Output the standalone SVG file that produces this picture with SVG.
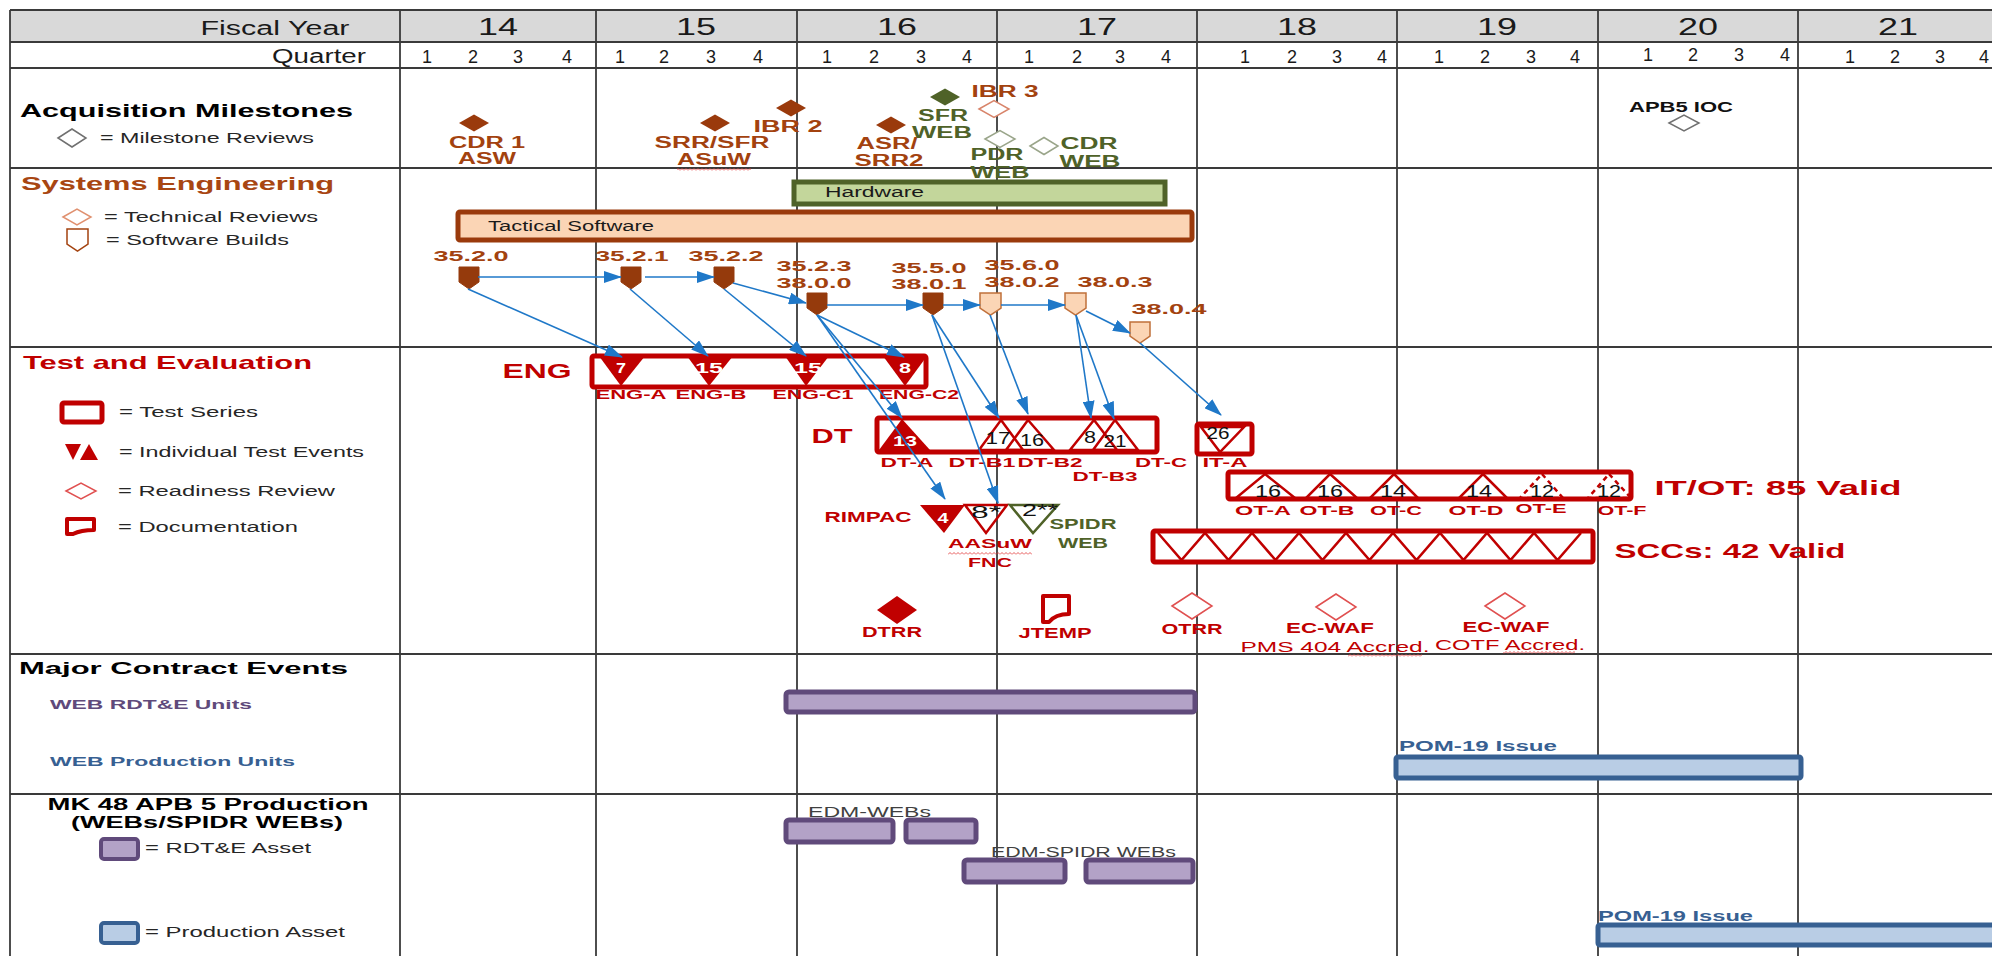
<svg xmlns="http://www.w3.org/2000/svg" width="1992" height="956" viewBox="0 0 1992 956">
<defs>
<style>
text{font-family:"Liberation Sans",Arial,Helvetica,sans-serif}
.hd{font-size:20px;fill:#1a1a1a}
.yr{font-size:23px;fill:#1a1a1a;text-anchor:middle}
.q{font-size:18px;fill:#1a1a1a;text-anchor:middle}
.sec{font-size:19px;font-weight:bold}
.lg{font-size:14px;fill:#262626}
.ms{font-size:16px;font-weight:bold;fill:#a3420f;text-anchor:middle}
.msg{font-size:16px;font-weight:bold;fill:#4f6228;text-anchor:middle}
.bl{font-size:15px;font-weight:bold;fill:#a3420f;text-anchor:middle}
.rl{font-size:13px;font-weight:bold;fill:#c00000;text-anchor:middle}
.rn{font-size:15px;fill:#c00000;text-anchor:middle}
.rb{font-weight:bold;fill:#c00000;text-anchor:middle}
.num{font-size:16px;fill:#111;text-anchor:middle}
.wn{font-size:14px;font-weight:bold;fill:#fff;text-anchor:middle}
.grid{stroke:#3a3a3a;stroke-width:1.8}
.arr{stroke:#1f78c8;stroke-width:1.6;fill:none;marker-end:url(#ah)}
.box{fill:#fff;stroke:#c00000;stroke-width:5}
.tri{fill:none;stroke:#c00000;stroke-width:2.5}
.trid{fill:none;stroke:#c00000;stroke-width:2.5;stroke-dasharray:5 4}
.bd{fill:#953a0c;stroke:#953a0c;stroke-width:1}
.bp{fill:#fbd5b5;stroke:#c0703a;stroke-width:1.5}
.pur{fill:#b3a2c7;stroke:#604a7b;stroke-width:5}
.blu{fill:#b9cde5;stroke:#376092;stroke-width:5}
.wave{fill:url(#wv)}
</style>
<marker id="ah" markerWidth="18" markerHeight="12" refX="17" refY="6" orient="auto" markerUnits="userSpaceOnUse"><path d="M0,0 L18,6 L0,12 z" fill="#1f78c8"/></marker>
<pattern id="wv" width="4" height="3" patternUnits="userSpaceOnUse"><path d="M0,2.5 L2,0.5 L4,2.5" fill="none" stroke="#e03030" stroke-width="0.8"/></pattern>
</defs>
<rect x="0" y="0" width="1992" height="956" fill="#fff"/>

<g id="grid">
<rect x="10" y="10" width="1990" height="32" fill="#d9d9d9"/>
<line class="grid" x1="10" y1="10" x2="1992" y2="10"/>
<line class="grid" x1="10" y1="42" x2="1992" y2="42"/>
<line class="grid" x1="10" y1="68" x2="1992" y2="68"/>
<line class="grid" x1="10" y1="168" x2="1992" y2="168"/>
<line class="grid" x1="10" y1="347" x2="1992" y2="347"/>
<line class="grid" x1="10" y1="654" x2="1992" y2="654"/>
<line class="grid" x1="10" y1="794" x2="1992" y2="794"/>
<line class="grid" x1="10" y1="10" x2="10" y2="956"/>
<line class="grid" x1="400" y1="10" x2="400" y2="956"/>
<line class="grid" x1="596" y1="10" x2="596" y2="956"/>
<line class="grid" x1="797" y1="10" x2="797" y2="956"/>
<line class="grid" x1="997" y1="10" x2="997" y2="956"/>
<line class="grid" x1="1197" y1="10" x2="1197" y2="956"/>
<line class="grid" x1="1397" y1="10" x2="1397" y2="956"/>
<line class="grid" x1="1598" y1="10" x2="1598" y2="956"/>
<line class="grid" x1="1798" y1="10" x2="1798" y2="956"/>
</g>

<g id="header">
<text class="hd" x="275" y="35" text-anchor="middle" textLength="149" lengthAdjust="spacingAndGlyphs">Fiscal Year</text>
<text class="yr" x="498" y="35" textLength="40" lengthAdjust="spacingAndGlyphs">14</text>
<text class="yr" x="696" y="35" textLength="40" lengthAdjust="spacingAndGlyphs">15</text>
<text class="yr" x="897" y="35" textLength="40" lengthAdjust="spacingAndGlyphs">16</text>
<text class="yr" x="1097" y="35" textLength="40" lengthAdjust="spacingAndGlyphs">17</text>
<text class="yr" x="1297" y="35" textLength="40" lengthAdjust="spacingAndGlyphs">18</text>
<text class="yr" x="1497" y="35" textLength="40" lengthAdjust="spacingAndGlyphs">19</text>
<text class="yr" x="1698" y="35" textLength="40" lengthAdjust="spacingAndGlyphs">20</text>
<text class="yr" x="1898" y="35" textLength="40" lengthAdjust="spacingAndGlyphs">21</text>
<text class="hd" x="366" y="63" font-size="18" text-anchor="end" textLength="94" lengthAdjust="spacingAndGlyphs">Quarter</text>
<g class="q">
<text x="427" y="63">1</text><text x="473" y="63">2</text><text x="518" y="63">3</text><text x="567" y="63">4</text>
<text x="620" y="63">1</text><text x="664" y="63">2</text><text x="711" y="63">3</text><text x="758" y="63">4</text>
<text x="827" y="63">1</text><text x="874" y="63">2</text><text x="921" y="63">3</text><text x="967" y="63">4</text>
<text x="1029" y="63">1</text><text x="1077" y="63">2</text><text x="1120" y="63">3</text><text x="1166" y="63">4</text>
<text x="1245" y="63">1</text><text x="1292" y="63">2</text><text x="1337" y="63">3</text><text x="1382" y="63">4</text>
<text x="1439" y="63">1</text><text x="1485" y="63">2</text><text x="1531" y="63">3</text><text x="1575" y="63">4</text>
<text x="1648" y="61">1</text><text x="1693" y="61">2</text><text x="1739" y="61">3</text><text x="1785" y="61">4</text>
<text x="1850" y="63">1</text><text x="1895" y="63">2</text><text x="1940" y="63">3</text><text x="1984" y="63">4</text>
</g>
</g>

<g id="acq-legend">
<text class="sec" x="20" y="117" fill="#000" textLength="333" lengthAdjust="spacingAndGlyphs">Acquisition Milestones</text>
<polygon points="58,138 72,129 86,138 72,147" fill="#fff" stroke="#707070" stroke-width="1.5"/>
<text class="lg" x="100" y="143" textLength="214" lengthAdjust="spacingAndGlyphs">= Milestone Reviews</text>
</g>

<g id="ms-cdr1">
<polygon points="459,123 474,114.5 489,123 474,131.5" fill="#9a3a0c"/>
<text class="ms" x="487" y="148" textLength="76" lengthAdjust="spacingAndGlyphs">CDR 1</text>
<text class="ms" x="487" y="164" textLength="58" lengthAdjust="spacingAndGlyphs">ASW</text>
</g>
<g id="ms-srr">
<polygon points="700,123 715,114.5 730,123 715,131.5" fill="#9a3a0c"/>
<text class="ms" x="712" y="148" textLength="115" lengthAdjust="spacingAndGlyphs">SRR/SFR</text>
<text class="ms" x="714" y="165" textLength="74" lengthAdjust="spacingAndGlyphs">ASuW</text>
<rect class="wave" x="677" y="168" width="74" height="3"/>
</g>
<g id="ms-ibr2">
<polygon points="776,108 791,99.5 806,108 791,116.5" fill="#9a3a0c"/>
<text class="ms" x="788" y="132" textLength="69" lengthAdjust="spacingAndGlyphs">IBR 2</text>
</g>
<g id="ms-asr">
<polygon points="876,125 891,116.5 906,125 891,133.5" fill="#9a3a0c"/>
<text class="ms" x="887" y="149" textLength="61" lengthAdjust="spacingAndGlyphs">ASR/</text>
<text class="ms" x="889" y="166" textLength="69" lengthAdjust="spacingAndGlyphs">SRR2</text>
</g>
<g id="ms-sfr">
<polygon points="930,97 945,88.5 960,97 945,105.5" fill="#4f6228"/>
<text class="msg" x="943" y="121" textLength="50" lengthAdjust="spacingAndGlyphs">SFR</text>
<text class="msg" x="942" y="138" textLength="60" lengthAdjust="spacingAndGlyphs">WEB</text>
</g>
<g id="ms-ibr3">
<polygon points="979,109 994,100.5 1009,109 994,117.5" fill="#fff" stroke="#d8846a" stroke-width="1.5"/>
<text class="ms" x="1005" y="97" textLength="67" lengthAdjust="spacingAndGlyphs">IBR 3</text>
</g>
<g id="ms-pdr">
<polygon points="985,139 1000,130.5 1015,139 1000,147.5" fill="#fff" stroke="#9aa58a" stroke-width="1.5"/>
<text class="msg" x="997" y="160" textLength="53" lengthAdjust="spacingAndGlyphs">PDR</text>
<text class="msg" x="1000" y="178" textLength="59" lengthAdjust="spacingAndGlyphs">WEB</text>
</g>
<g id="ms-cdrweb">
<polygon points="1030,146 1044,137.5 1058,146 1044,154.5" fill="#fff" stroke="#9aa58a" stroke-width="1.5"/>
<text class="msg" x="1089" y="149" textLength="57" lengthAdjust="spacingAndGlyphs">CDR</text>
<text class="msg" x="1090" y="167" textLength="61" lengthAdjust="spacingAndGlyphs">WEB</text>
</g>
<g id="ms-apb5">
<text x="1681" y="112" font-size="14" font-weight="bold" fill="#111" text-anchor="middle" textLength="104" lengthAdjust="spacingAndGlyphs">APB5 IOC</text>
<polygon points="1669,123 1684,115 1699,123 1684,131" fill="#fff" stroke="#707070" stroke-width="1.5"/>
</g>

<g id="se-legend">
<text class="sec" x="21" y="190" fill="#a84612" textLength="313" lengthAdjust="spacingAndGlyphs">Systems Engineering</text>
<polygon points="63,217 77,209 91,217 77,225" fill="#fff" stroke="#e0906f" stroke-width="1.5"/>
<text class="lg" x="104" y="222" textLength="214" lengthAdjust="spacingAndGlyphs">= Technical Reviews</text>
<path d="M67,229 H88 V244 L77.5,251 L67,244 Z" fill="#fff" stroke="#a3420f" stroke-width="1.5"/>
<text class="lg" x="106" y="245" textLength="183" lengthAdjust="spacingAndGlyphs">= Software Builds</text>
</g>

<g id="hardware">
<rect x="794" y="182" width="371" height="22" fill="#c3d69b" stroke="#4f6228" stroke-width="5"/>
<text x="825" y="197" font-size="14" fill="#1a1a1a" textLength="99" lengthAdjust="spacingAndGlyphs">Hardware</text>
</g>
<g id="tactical-software">
<rect x="458" y="212" width="734" height="28" rx="2" fill="#fbd5b5" stroke="#9a3a0c" stroke-width="5"/>
<text x="488" y="231" font-size="14" fill="#1a1a1a" textLength="166" lengthAdjust="spacingAndGlyphs">Tactical Software</text>
</g>

<g id="b35-2-0">
<text class="bl" x="471" y="261" textLength="75" lengthAdjust="spacingAndGlyphs">35.2.0</text>
<path class="bd" d="M459,267 h20 v15 l-10,7 l-10,-7 z"/>
</g>
<g id="b35-2-1">
<text class="bl" x="632" y="261" textLength="73" lengthAdjust="spacingAndGlyphs">35.2.1</text>
<path class="bd" d="M621,267 h20 v15 l-10,7 l-10,-7 z"/>
</g>
<g id="b35-2-2">
<text class="bl" x="726" y="261" textLength="75" lengthAdjust="spacingAndGlyphs">35.2.2</text>
<path class="bd" d="M714,267 h20 v15 l-10,7 l-10,-7 z"/>
</g>
<g id="b35-2-3">
<text class="bl" x="814" y="271" textLength="75" lengthAdjust="spacingAndGlyphs">35.2.3</text>
<text class="bl" x="814" y="288" textLength="75" lengthAdjust="spacingAndGlyphs">38.0.0</text>
<path class="bd" d="M807,293 h20 v15 l-10,7 l-10,-7 z"/>
</g>
<g id="b35-5-0">
<text class="bl" x="929" y="273" textLength="75" lengthAdjust="spacingAndGlyphs">35.5.0</text>
<text class="bl" x="929" y="289" textLength="75" lengthAdjust="spacingAndGlyphs">38.0.1</text>
<path class="bd" d="M923,293 h20 v15 l-10,7 l-10,-7 z"/>
</g>
<g id="b35-6-0">
<text class="bl" x="1022" y="270" textLength="75" lengthAdjust="spacingAndGlyphs">35.6.0</text>
<text class="bl" x="1022" y="287" textLength="75" lengthAdjust="spacingAndGlyphs">38.0.2</text>
<path class="bp" d="M980,293 h21 v15 l-10.5,7 l-10.5,-7 z"/>
</g>
<g id="b38-0-3">
<text class="bl" x="1115" y="287" textLength="75" lengthAdjust="spacingAndGlyphs">38.0.3</text>
<path class="bp" d="M1065,293 h21 v15 l-10.5,7 l-10.5,-7 z"/>
</g>
<g id="b38-0-4">
<text class="bl" x="1169" y="314" textLength="75" lengthAdjust="spacingAndGlyphs">38.0.4</text>
<path class="bp" d="M1130,322 h20 v14 l-10,7 l-10,-7 z"/>
</g>

<g id="te-legend">
<text class="sec" x="23" y="369" fill="#c00000" textLength="289" lengthAdjust="spacingAndGlyphs">Test and Evaluation</text>
<rect x="62" y="403" width="40" height="19" rx="2" fill="#fff" stroke="#c00000" stroke-width="5"/>
<text class="lg" x="119" y="417" textLength="139" lengthAdjust="spacingAndGlyphs">= Test Series</text>
<polygon points="65,444 81,444 73,460" fill="#c00000"/>
<polygon points="89,444 98,460 80,460" fill="#c00000"/>
<text class="lg" x="119" y="457" textLength="245" lengthAdjust="spacingAndGlyphs">= Individual Test Events</text>
<polygon points="66,491 81,483 96,491 81,499" fill="#fff" stroke="#e05050" stroke-width="1.5"/>
<text class="lg" x="118" y="496" textLength="217" lengthAdjust="spacingAndGlyphs">= Readiness Review</text>
<path d="M67,519 L94,519 L94,530 C86,530 79,531 73,534 L67,534 Z" fill="#fff" stroke="#c00000" stroke-width="4" stroke-linejoin="round"/>
<text class="lg" x="118" y="532" textLength="180" lengthAdjust="spacingAndGlyphs">= Documentation</text>
</g>

<g id="eng">
<text class="rb" x="537" y="378" font-size="21" textLength="69" lengthAdjust="spacingAndGlyphs">ENG</text>
<rect class="box" x="592" y="356" width="334" height="31" rx="2"/>
<polygon points="599,356 645,356 621,386" fill="#c00000"/>
<polygon points="687,356 733,356 709,386" fill="#c00000"/>
<polygon points="785,356 829,356 806,386" fill="#c00000"/>
<polygon points="883,356 927,356 905,386" fill="#c00000"/>
<text class="wn" x="621" y="373" textLength="10" lengthAdjust="spacingAndGlyphs">7</text>
<text class="wn" x="709" y="373" textLength="28" lengthAdjust="spacingAndGlyphs">15</text>
<text class="wn" x="808" y="373" textLength="28" lengthAdjust="spacingAndGlyphs">15</text>
<text class="wn" x="905" y="373" textLength="12" lengthAdjust="spacingAndGlyphs">8</text>
<text class="rl" x="631" y="399" textLength="71" lengthAdjust="spacingAndGlyphs">ENG-A</text>
<text class="rl" x="711" y="399" textLength="71" lengthAdjust="spacingAndGlyphs">ENG-B</text>
<text class="rl" x="813" y="399" textLength="81" lengthAdjust="spacingAndGlyphs">ENG-C1</text>
<text class="rl" x="919" y="399" textLength="80" lengthAdjust="spacingAndGlyphs">ENG-C2</text>
</g>

<g id="dt">
<text class="rb" x="832" y="443" font-size="21" textLength="41" lengthAdjust="spacingAndGlyphs">DT</text>
<rect class="box" x="877" y="418" width="280" height="34" rx="2"/>
<polygon points="902,419 930,450 879,450" fill="#c00000"/>
<polygon class="tri" points="1001,420 1023,450 979,450"/>
<polygon class="tri" points="1028,420 1054,450 1006,450"/>
<polygon class="tri" points="1094,420 1117,450 1070,450"/>
<polygon class="tri" points="1115,420 1138,450 1093,450"/>
<text class="wn" x="905" y="446" textLength="24" lengthAdjust="spacingAndGlyphs">13</text>
<text class="num" x="998" y="444" textLength="25" lengthAdjust="spacingAndGlyphs">17</text>
<text class="num" x="1032" y="446" textLength="24" lengthAdjust="spacingAndGlyphs">16</text>
<text class="num" x="1090" y="443" textLength="12" lengthAdjust="spacingAndGlyphs">8</text>
<text class="num" x="1115" y="447" textLength="23" lengthAdjust="spacingAndGlyphs">21</text>
<text class="rl" x="907" y="467" textLength="53" lengthAdjust="spacingAndGlyphs">DT-A</text>
<text class="rl" x="982" y="467" textLength="67" lengthAdjust="spacingAndGlyphs">DT-B1</text>
<text class="rl" x="1050" y="467" textLength="65" lengthAdjust="spacingAndGlyphs">DT-B2</text>
<text class="rl" x="1105" y="481" textLength="65" lengthAdjust="spacingAndGlyphs">DT-B3</text>
<text class="rl" x="1161" y="467" textLength="52" lengthAdjust="spacingAndGlyphs">DT-C</text>
</g>

<g id="it-a">
<rect class="box" x="1197" y="424" width="55" height="30" rx="2"/>
<polygon class="tri" points="1201,427 1244,427 1220,452"/>
<text class="num" x="1218" y="439" textLength="23" lengthAdjust="spacingAndGlyphs">26</text>
<text class="rl" x="1225" y="467" textLength="45" lengthAdjust="spacingAndGlyphs">IT-A</text>
</g>

<g id="it-ot">
<rect class="box" x="1228" y="472" width="403" height="27" rx="2"/>
<polygon class="tri" points="1265,474 1295,498 1236,498"/>
<polygon class="tri" points="1330,474 1357,498 1306,498"/>
<polygon class="tri" points="1394,474 1418,498 1370,498"/>
<polygon class="tri" points="1483,474 1507,498 1459,498"/>
<polygon class="trid" points="1542,474 1563,498 1520,498"/>
<polygon class="trid" points="1609,474 1631,498 1588,498"/>
<text class="num" x="1268" y="497" font-size="15" textLength="26" lengthAdjust="spacingAndGlyphs">16</text>
<text class="num" x="1330" y="497" font-size="15" textLength="26" lengthAdjust="spacingAndGlyphs">16</text>
<text class="num" x="1393" y="497" font-size="15" textLength="26" lengthAdjust="spacingAndGlyphs">14</text>
<text class="num" x="1479" y="497" font-size="15" textLength="26" lengthAdjust="spacingAndGlyphs">14</text>
<text class="num" x="1542" y="497" font-size="15" textLength="24" lengthAdjust="spacingAndGlyphs">12</text>
<text class="num" x="1609" y="497" font-size="15" textLength="24" lengthAdjust="spacingAndGlyphs">12</text>
<text class="rl" x="1263" y="515" textLength="56" lengthAdjust="spacingAndGlyphs">OT-A</text>
<text class="rl" x="1327" y="515" textLength="55" lengthAdjust="spacingAndGlyphs">OT-B</text>
<text class="rl" x="1396" y="515" textLength="52" lengthAdjust="spacingAndGlyphs">OT-C</text>
<text class="rl" x="1476" y="515" textLength="55" lengthAdjust="spacingAndGlyphs">OT-D</text>
<text class="rl" x="1541" y="513" textLength="51" lengthAdjust="spacingAndGlyphs">OT-E</text>
<text class="rl" x="1622" y="515" textLength="49" lengthAdjust="spacingAndGlyphs">OT-F</text>
<text class="rb" x="1778" y="495" font-size="21" textLength="247" lengthAdjust="spacingAndGlyphs">IT/OT: 85 Valid</text>
</g>

<g id="scc">
<rect class="box" x="1153" y="531" width="440" height="31" rx="2"/>
<polyline fill="none" stroke="#c00000" stroke-width="2.5" points="1158,533 1181.5,560 1205,533 1228.5,560 1252,533 1275.5,560 1299,533 1322.5,560 1346,533 1369.5,560 1393,533 1416.5,560 1440,533 1463.5,560 1487,533 1510.5,560 1534,533 1557.5,560 1581,533"/>
<text class="rb" x="1730" y="558" font-size="21" textLength="231" lengthAdjust="spacingAndGlyphs">SCCs: 42 Valid</text>
</g>

<g id="rimpac">
<text class="rb" x="868" y="522" font-size="15" textLength="87" lengthAdjust="spacingAndGlyphs">RIMPAC</text>
<polygon points="920,505 965,505 944,533" fill="#c00000"/>
<text class="wn" x="943" y="523" textLength="11" lengthAdjust="spacingAndGlyphs">4</text>
</g>
<g id="aasuw">
<polygon class="tri" points="965,505 1007,505 986,533"/>
<text class="num" x="986" y="518" textLength="30" lengthAdjust="spacingAndGlyphs">8*</text>
<text class="rl" x="990" y="548" font-size="14" textLength="84" lengthAdjust="spacingAndGlyphs">AASuW</text>
<rect class="wave" x="948" y="552" width="84" height="3"/>
<text class="rl" x="990" y="567" font-size="14" textLength="44" lengthAdjust="spacingAndGlyphs">FNC</text>
</g>
<g id="spidr">
<polygon points="1010,505 1058,505 1033,533" fill="none" stroke="#4f6228" stroke-width="2.5"/>
<text class="num" x="1040" y="516" textLength="36" lengthAdjust="spacingAndGlyphs">2**</text>
<text x="1083" y="529" font-size="14" font-weight="bold" fill="#4f6228" text-anchor="middle" textLength="67" lengthAdjust="spacingAndGlyphs">SPIDR</text>
<text x="1083" y="548" font-size="14" font-weight="bold" fill="#4f6228" text-anchor="middle" textLength="50" lengthAdjust="spacingAndGlyphs">WEB</text>
</g>

<g id="dtrr">
<polygon points="877,610 897,596 917,610 897,624" fill="#c00000"/>
<text class="rb" x="892" y="637" font-size="15" textLength="60" lengthAdjust="spacingAndGlyphs">DTRR</text>
</g>
<g id="jtemp">
<path d="M1043,596 L1069,596 L1069,614 C1060,614 1053,617 1049,622 L1043,622 Z" fill="#fff" stroke="#c00000" stroke-width="4" stroke-linejoin="round"/>
<text class="rb" x="1055" y="638" font-size="15" textLength="73" lengthAdjust="spacingAndGlyphs">JTEMP</text>
</g>
<g id="otrr">
<polygon points="1172,606 1192,593 1212,606 1192,619" fill="#fff" stroke="#e05050" stroke-width="1.5"/>
<text class="rb" x="1192" y="634" font-size="15" textLength="61" lengthAdjust="spacingAndGlyphs">OTRR</text>
</g>
<g id="ecwaf-pms">
<polygon points="1316,607 1336,594 1356,607 1336,620" fill="#fff" stroke="#e05050" stroke-width="1.5"/>
<text class="rb" x="1330" y="633" font-size="15" textLength="88" lengthAdjust="spacingAndGlyphs">EC-WAF</text>
<text class="rn" x="1335" y="652" textLength="189" lengthAdjust="spacingAndGlyphs">PMS 404 Accred.</text>
<rect class="wave" x="1348" y="654" width="74" height="3"/>
</g>
<g id="ecwaf-cotf">
<polygon points="1485,606 1505,593 1525,606 1505,619" fill="#fff" stroke="#e05050" stroke-width="1.5"/>
<text class="rb" x="1506" y="632" font-size="15" textLength="87" lengthAdjust="spacingAndGlyphs">EC-WAF</text>
<text class="rn" x="1510" y="650" textLength="150" lengthAdjust="spacingAndGlyphs">COTF Accred.</text>
<rect class="wave" x="1503" y="651" width="72" height="3"/>
</g>

<g id="connectors">
<line class="arr" x1="478" y1="277" x2="621" y2="277"/>
<line class="arr" x1="645" y1="277" x2="714" y2="277"/>
<line class="arr" x1="733" y1="283" x2="806" y2="303"/>
<line class="arr" x1="827" y1="305" x2="923" y2="305"/>
<line class="arr" x1="943" y1="305" x2="980" y2="305"/>
<line class="arr" x1="1001" y1="305" x2="1065" y2="305"/>
<line class="arr" x1="1086" y1="311" x2="1130" y2="333"/>
<line class="arr" x1="468" y1="289" x2="622" y2="357"/>
<line class="arr" x1="630" y1="289" x2="708" y2="356"/>
<line class="arr" x1="724" y1="289" x2="806" y2="356"/>
<line class="arr" x1="817" y1="315" x2="904" y2="357"/>
<line class="arr" x1="817" y1="315" x2="902" y2="418"/>
<line class="arr" x1="817" y1="315" x2="945" y2="499"/>
<line class="arr" x1="932" y1="315" x2="999" y2="418"/>
<line class="arr" x1="932" y1="315" x2="998" y2="503"/>
<line class="arr" x1="990" y1="315" x2="1028" y2="414"/>
<line class="arr" x1="1076" y1="315" x2="1091" y2="418"/>
<line class="arr" x1="1076" y1="315" x2="1114" y2="419"/>
<line class="arr" x1="1140" y1="343" x2="1221" y2="415"/>
</g>

<g id="mce-legend">
<text x="19" y="674" font-size="17" font-weight="bold" fill="#000" textLength="329" lengthAdjust="spacingAndGlyphs">Major Contract Events</text>
<text x="50" y="709" font-size="13" font-weight="bold" fill="#604a7b" textLength="202" lengthAdjust="spacingAndGlyphs">WEB RDT&amp;E  Units</text>
<text x="50" y="766" font-size="13" font-weight="bold" fill="#376092" textLength="245" lengthAdjust="spacingAndGlyphs">WEB Production  Units</text>
</g>
<g id="web-rdte">
<rect class="pur" x="786" y="692" width="409" height="20" rx="3"/>
</g>
<g id="web-prod">
<text x="1399" y="751" font-size="14" font-weight="bold" fill="#376092" textLength="158" lengthAdjust="spacingAndGlyphs">POM-19  Issue</text>
<rect class="blu" x="1396" y="757" width="405" height="21" rx="2"/>
</g>

<g id="mk48-legend">
<text x="208" y="810" font-size="16" font-weight="bold" fill="#000" text-anchor="middle" textLength="321" lengthAdjust="spacingAndGlyphs">MK 48 APB  5 Production</text>
<text x="207" y="828" font-size="16" font-weight="bold" fill="#000" text-anchor="middle" textLength="272" lengthAdjust="spacingAndGlyphs">(WEBs/SPIDR  WEBs)</text>
<rect x="101" y="839" width="37" height="20" rx="3" fill="#b3a2c7" stroke="#604a7b" stroke-width="4"/>
<text x="145" y="853" font-size="15" fill="#262626" textLength="166" lengthAdjust="spacingAndGlyphs">= RDT&amp;E Asset</text>
<rect x="101" y="923" width="37" height="20" rx="3" fill="#b9cde5" stroke="#376092" stroke-width="4"/>
<text x="145" y="937" font-size="15" fill="#262626" textLength="200" lengthAdjust="spacingAndGlyphs">= Production Asset</text>
</g>
<g id="edm-webs">
<text x="808" y="817" font-size="14" fill="#404040" textLength="123" lengthAdjust="spacingAndGlyphs">EDM-WEBs</text>
<rect class="pur" x="786" y="820" width="107" height="22" rx="3"/>
<rect class="pur" x="906" y="820" width="70" height="22" rx="3"/>
</g>
<g id="edm-spidr">
<text x="991" y="857" font-size="14" fill="#404040" textLength="185" lengthAdjust="spacingAndGlyphs">EDM-SPIDR WEBs</text>
<rect class="pur" x="964" y="860" width="101" height="22" rx="3"/>
<rect class="pur" x="1086" y="860" width="107" height="22" rx="3"/>
</g>
<g id="prod-asset">
<text x="1598" y="921" font-size="14" font-weight="bold" fill="#376092" textLength="155" lengthAdjust="spacingAndGlyphs">POM-19  Issue</text>
<rect class="blu" x="1598" y="925" width="420" height="20" rx="2"/>
</g>
</svg>
